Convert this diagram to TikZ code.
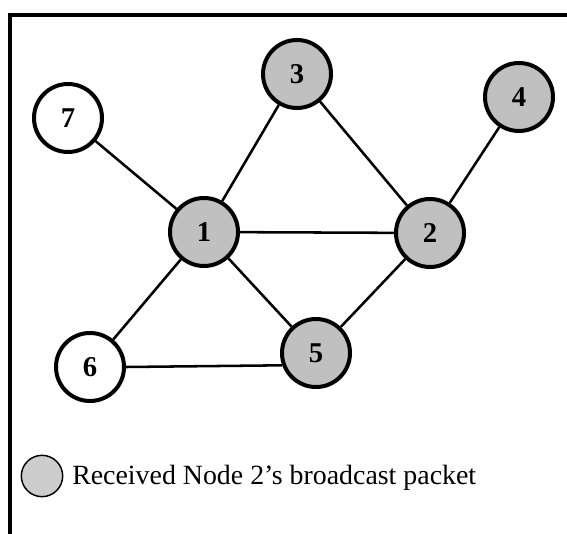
\documentclass[tikz,border=0pt]{standalone}
\usepackage{fontspec}
\setmainfont{Liberation Serif}
\usepackage{tikz}
\usetikzlibrary{positioning}
\definecolor{recvgray}{RGB}{192, 192, 192}

\begin{document}
\begin{tikzpicture}[x=0.75pt, y=-0.75pt,
    peer/.style={circle, draw=black, line width=3pt, fill=white, minimum size=51pt, inner sep=0pt, font=\fontsize{21.5}{22}\selectfont\bfseries},
    recv/.style={peer, fill=recvgray},
    link/.style={line width=1.9pt, color=black}]
    \useasboundingbox (0, 0) rectangle (567, 534);

    % frame
    \draw[line width=2.4pt] (10, 534) -- (10, 15) -- (567, 15);

    % nodes
    \node[recv] (N1) at (204, 232) {1};
    \node[recv] (N2) at (430, 233) {2};
    \node[recv] (N3) at (297, 74) {3};
    \node[recv] (N4) at (519, 97) {4};
    \node[recv] (N5) at (316, 353) {5};
    \node[peer] (N6) at (90, 367) {6};
    \node[peer] (N7) at (68, 118) {7};

    % links
    \draw[link] (N7) -- (N1);
    \draw[link] (N3) -- (N1);
    \draw[link] (N3) -- (N2);
    \draw[link] (N1) -- (N2);
    \draw[link] (N4) -- (N2);
    \draw[link] (N1) -- (N6);
    \draw[link] (N1) -- (N5);
    \draw[link] (N2) -- (N5);
    \draw[link] (N6.east) -- (N5.200);

    % legend
    \node[circle, draw=black, line width=1.1pt, fill=recvgray!80, minimum size=31pt, inner sep=0pt] (Key) at (42, 476) {};
    \node[anchor=west, font=\fontsize{20.9}{24}\selectfont, inner sep=0pt] (KeyText) at (72, 478) {Received Node 2's broadcast packet};
\end{tikzpicture}
\end{document}
